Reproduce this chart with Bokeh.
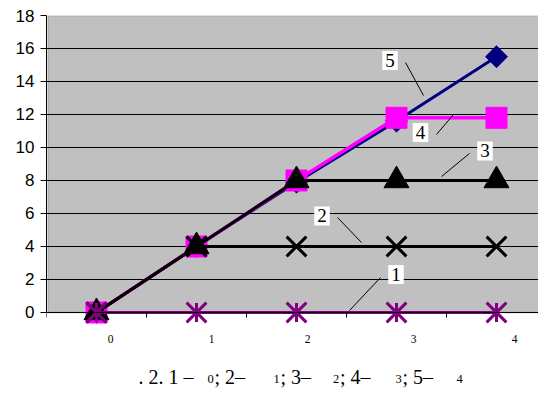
import math
from bokeh.plotting import figure
from bokeh.models import Range1d, FixedTicker, BoxAnnotation, Label
from bokeh.embed import file_html
from bokeh.resources import INLINE

# ---- data ----
x_idx = [0, 1, 2, 3, 4]
s1 = [0, 0, 0, 0, 0]
s2 = [0, 4, 4, 4, 4]
s3 = [0, 4, 8, 8, 8]
s4 = [0, 4, 8, 11.8, 11.8]
s5 = [0, 4, 7.9, 11.6, 15.5]
y_ticks = [0, 2, 4, 6, 8, 10, 12, 14, 16, 18]
x_tick_labels = ["0", "1", "2", "3", "4"]
series_names = ["1", "2", "3", "4", "5"]
caption_main = [". 2. 1 \u2013", "; 2\u2013", "; 3\u2013", "; 4\u2013", "; 5\u2013"]
caption_sub = ["0", "1", "2", "3", "4"]

# ---- layout helpers (positions) ----
x_label_pos = [0.14, 1.15, 2.11, 3.17, 4.18]
x_label_y = -1.6
boundaries = [-0.5, 0.5, 1.5, 2.5, 3.5]
name_pos = [(2.995, 2.30), (2.255, 5.85), (3.885, 9.79), (3.24, 10.91), (2.935, 15.27)]
leader = [((2.84, 2.12), (2.53, 0.12)),
          ((2.41, 5.76), (2.65, 4.24)),
          ((3.73, 9.64), (3.45, 8.24)),
          ((3.40, 10.79), (3.57, 12.0)),
          ((3.09, 15.15), (3.27, 13.15))]
cap_main_x = [0.42, 1.18, 1.84, 2.435, 3.06]
cap_sub_x = [1.11, 1.77, 2.365, 2.99, 3.60]
cap_main_y = -3.88
cap_sub_y = -4.02

p = figure(width=538, height=394, output_backend="svg", toolbar_location=None,
           x_range=Range1d(-0.5, 4.42), y_range=Range1d(-4.97, 18),
           min_border_left=46, min_border_top=15, min_border_right=0,
           min_border_bottom=0)
p.outline_line_color = None
p.background_fill_color = "white"
p.border_fill_color = "white"

# plot area
p.add_layout(BoxAnnotation(left=-0.485, right=4.46, bottom=0, top=18,
                           fill_color="#C0C0C0", fill_alpha=1,
                           line_color="#808080", line_width=2, level="image"))

# grid
p.xgrid.visible = False
p.ygrid.ticker = FixedTicker(ticks=y_ticks[1:-1])
p.ygrid.grid_line_color = "black"
p.ygrid.grid_line_width = 1

# y axis
ya = p.yaxis[0]
ya.ticker = FixedTicker(ticks=y_ticks)
ya.bounds = (0, 18)
ya.axis_line_color = "black"
ya.major_tick_out = 6
ya.major_tick_in = 0
ya.minor_tick_line_color = None
ya.major_label_standoff = 6
ya.major_label_text_font = "Liberation Sans"
ya.major_label_text_font_size = "17px"
ya.major_label_text_color = "black"

# x axis (category boundaries as ticks)
xa = p.xaxis[0]
xa.fixed_location = 0
xa.ticker = FixedTicker(ticks=[], minor_ticks=boundaries)
xa.axis_line_color = "black"
xa.major_tick_out = 0
xa.major_tick_in = 0
xa.minor_tick_out = 5
xa.minor_tick_in = 0
xa.minor_tick_line_color = "black"
xa.major_label_standoff = 0

# series (drawn last-to-first)
p.line(x_idx, s5, line_color="#000080", line_width=3)
p.scatter(x_idx, s5, marker="square", angle=math.pi / 4, size=15.5,
          fill_color="#000080", line_color="#000080")
p.line(x_idx, s4, line_color="#FF00FF", line_width=3.5)
p.scatter(x_idx, s4, marker="square", size=21,
          fill_color="#FF00FF", line_color="#FF00FF")
p.line(x_idx, s3, line_color="black", line_width=3)
p.scatter(x_idx, s3, marker="triangle", size=25,
          fill_color="black", line_color="black")
p.line(x_idx, s2, line_color="black", line_width=3)
p.scatter(x_idx, s2, marker="x", size=28, line_color="black", line_width=3)
p.line(x_idx, s1, line_color="#800080", line_width=3)
p.scatter(x_idx, s1, marker="x", size=28, line_color="#800080", line_width=3)
p.scatter(x_idx, s1, marker="dash", angle=math.pi / 2, size=19,
          line_color="#800080", line_width=3)

# x tick labels
for t, lx in zip(x_tick_labels, x_label_pos):
    p.add_layout(Label(x=lx, y=x_label_y, text=t, text_align="center",
                       text_baseline="middle", text_font="Liberation Serif",
                       text_font_size="11.5px", text_color="black"))

# series name call-outs
p.segment(x0=[a[0][0] for a in leader], y0=[a[0][1] for a in leader],
          x1=[a[1][0] for a in leader], y1=[a[1][1] for a in leader],
          line_color="black", line_width=1)
for name, (lx, ly) in zip(series_names, name_pos):
    p.add_layout(Label(x=lx, y=ly, text=name, text_align="center",
                       text_baseline="middle", text_font="Liberation Serif",
                       text_font_size="19px", text_color="black",
                       background_fill_color="white", padding=3))

# caption
for t, cx in zip(caption_main, cap_main_x):
    p.add_layout(Label(x=cx, y=cap_main_y, text=t, text_align="left",
                       text_baseline="alphabetic", text_font="Liberation Serif",
                       text_font_size="20px", text_color="black"))
for t, cx in zip(caption_sub, cap_sub_x):
    p.add_layout(Label(x=cx, y=cap_sub_y, text=t, text_align="left",
                       text_baseline="alphabetic", text_font="Liberation Serif",
                       text_font_size="12.5px", text_color="black"))

open("out.html", "w").write(file_html(p, INLINE))
